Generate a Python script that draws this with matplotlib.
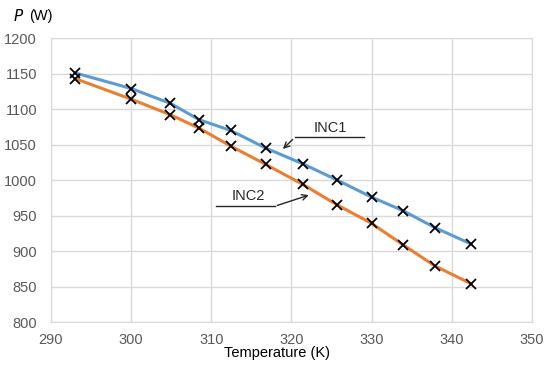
import matplotlib.pyplot as plt

plt.rcParams['font.family'] = ['Liberation Sans', 'DejaVu Sans']

temp = [293.0, 300.0, 304.9, 308.5, 312.4, 316.8, 321.4, 325.7, 330.0, 333.9, 337.9, 342.4]
inc1 = [1151, 1129, 1108, 1085, 1070, 1045, 1023, 1000, 976, 957, 933, 910]
inc2 = [1143, 1114, 1092, 1073, 1048, 1022, 994, 965, 939, 909, 879, 854]

xticks = [290, 300, 310, 320, 330, 340, 350]
yticks = [800, 850, 900, 950, 1000, 1050, 1100, 1150, 1200]

fig = plt.figure(figsize=(5.5, 3.7), dpi=100)
ax = fig.add_axes([0.0927, 0.1297, 0.8743, 0.7673])

ax.plot(temp, inc1, color='#5B9BD5', lw=2.2, zorder=3)
ax.plot(temp, inc2, color='#ED7D31', lw=2.2, zorder=3)
ax.plot(temp, inc1, ls='none', marker='x', ms=7.5, mew=1.3, color='black', zorder=4)
ax.plot(temp, inc2, ls='none', marker='x', ms=7.5, mew=1.3, color='black', zorder=4)

# leader lines with arrows
ax.plot([329.0, 320.4], [1060, 1060], color='#262626', lw=1, zorder=5)
ax.annotate('', xy=(318.7, 1041), xytext=(320.4, 1060),
            arrowprops=dict(arrowstyle='->', color='#262626', lw=1), zorder=5)
ax.text(324.9, 1064, 'INC1', ha='center', va='bottom', fontsize=10.5, color='#262626')

ax.plot([310.6, 317.9], [963, 963], color='#262626', lw=1, zorder=5)
ax.annotate('', xy=(322.5, 980), xytext=(317.9, 963),
            arrowprops=dict(arrowstyle='->', color='#262626', lw=1), zorder=5)
ax.text(314.6, 967, 'INC2', ha='center', va='bottom', fontsize=10.5, color='#262626')

ax.set_xlim(290, 350)
ax.set_ylim(800, 1200)
ax.set_xticks(xticks)
ax.set_yticks(yticks)
ax.grid(True, color='#d9d9d9', lw=1)
ax.set_axisbelow(True)
for s in ax.spines.values():
    s.set_color('#d9d9d9')
ax.tick_params(length=0, labelsize=10.5, labelcolor='#595959')
ax.tick_params(axis='y', pad=10)
ax.tick_params(axis='x', pad=8)

fig.text(0.504, 0.046, 'Temperature (K)', ha='center', va='center', fontsize=10.5, color='black')
fig.text(0.024, 0.957, '$\\it{P}$', ha='left', va='center', fontsize=11)
fig.text(0.053, 0.957, '(W)', ha='left', va='center', fontsize=10.5)

fig.savefig('out.png', dpi=100)
